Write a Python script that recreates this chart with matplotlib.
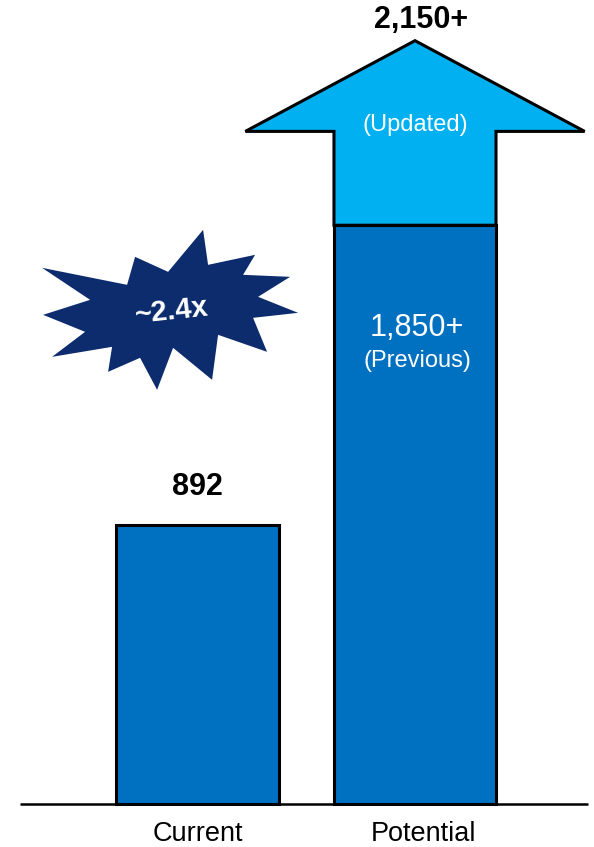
import matplotlib
matplotlib.use("Agg")
import matplotlib.pyplot as plt
from matplotlib.patches import Polygon
from matplotlib.transforms import Affine2D, ScaledTranslation

plt.rcParams['font.family'] = ['Liberation Sans', 'DejaVu Sans']

# data
categories = ["Current", "Potential"]
current_value = 892
previous_value = 1850
updated_value = 2150
value_labels = ["892", "1,850+", "2,150+"]
multiple_label = "~2.4x"

dark_blue = "#0070C0"
light_blue = "#00B0F0"
navy = "#0C2C6E"

fig = plt.figure(figsize=(5.94, 8.47), dpi=100)
ax = fig.add_axes([0, 0, 1, 1])
ax.set_xlim(-0.908, 1.823)
ax.set_ylim(-137.5, 2570)
ax.axis("off")

width = 0.745
# current bar and previous potential bar
ax.bar([0, 1], [current_value, previous_value], width=width, color=dark_blue,
       edgecolor="black", linewidth=2.2, zorder=2)

# updated arrow on top of the potential bar
half = width / 2
head_half = 0.78
head_h = 290
arrow = Polygon([(1 - half, previous_value), (1 + half, previous_value),
                 (1 + half, updated_value), (1 + head_half, updated_value),
                 (1, updated_value + head_h), (1 - head_half, updated_value),
                 (1 - half, updated_value)],
                closed=True, facecolor=light_blue, edgecolor="black",
                linewidth=2.2, joinstyle="miter", zorder=3)
ax.add_patch(arrow)

# baseline
ax.plot([-0.816, 1.795], [0, 0], color="black", linewidth=1.8, zorder=4,
        solid_capstyle="butt")

# labels
ax.text(0, current_value + 120, value_labels[0], ha="center", va="center",
        fontsize=22, fontweight="bold")
ax.text(1.03, updated_value + head_h + 65, value_labels[2], ha="center", va="center",
        fontsize=22, fontweight="bold")
ax.text(1, updated_value + 20, "(Updated)", ha="center", va="center",
        fontsize=17, color="white", zorder=5)
ax.text(1.01, previous_value - 330, value_labels[1], ha="center", va="center",
        fontsize=22, color="white", zorder=5)
ax.text(1.01, previous_value - 435, "(Previous)", ha="center", va="center",
        fontsize=17, color="white", zorder=5)
for i, cat in enumerate(categories):
    ax.text(i + (0.04 * i), -95, cat, ha="center", va="center", fontsize=19.5)

# starburst (offsets in pixels around its centre)
star = [(135, 257), (127, 285), (42, 268), (90, 300), (43, 315), (85, 332),
        (52, 357), (112, 347), (108, 372), (140, 358), (157, 390), (173, 348),
        (212, 380), (218, 335), (267, 352), (253, 318), (298, 313), (258, 297),
        (290, 277), (243, 275), (255, 255), (208, 265), (203, 230), (168, 272)]
cx, cy = 170, 313
star = [(x - cx, y - cy) for x, y in star]
star_x, star_y = -0.126, 1570
trans = (Affine2D().scale(0.01, -0.01) + fig.dpi_scale_trans
         + ScaledTranslation(star_x, star_y, ax.transData))
ax.add_patch(Polygon(star, closed=True, facecolor=navy, edgecolor="none",
                     transform=trans, zorder=3))
ax.text(star_x + 0.01, star_y + 5, multiple_label, ha="center", va="center",
        fontsize=21, fontweight="bold", color="white", rotation=6, zorder=5)

fig.savefig("out.png", dpi=100)
